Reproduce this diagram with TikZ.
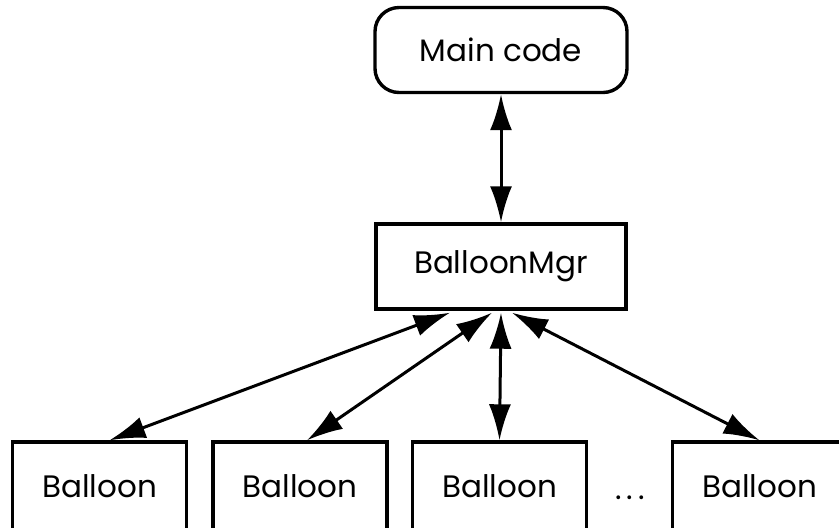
\documentclass[tikz,border=0pt]{standalone}
\usepackage{fontspec}
\setmainfont{Poppins}
\usetikzlibrary{arrows.meta}

\begin{document}
\begin{tikzpicture}[x=0.5pt,y=-0.5pt,
    box/.style={draw,line width=1.7pt,minimum width=125pt,minimum height=42.5pt,
      inner sep=0pt,font=\fontsize{15.5}{18}\selectfont},
    link/.style={line width=1.5pt,{Latex[length=18pt,width=11pt]}-{Latex[length=18pt,width=11pt]}}]
      \useasboundingbox (0,0) rectangle (839,527);
      \node[box,rounded corners=12pt,minimum width=126pt] (main) at (501,50) {Main code};
      \node[box] (mgr) at (501,266.5) {BalloonMgr};
      \node[box,minimum width=87pt,minimum height=44pt] (b1) at (99.5,486) {Balloon};
      \node[box,minimum width=87pt,minimum height=44pt] (b2) at (300,486) {Balloon};
      \node[box,minimum width=87pt,minimum height=44pt] (b3) at (499.5,486) {Balloon};
      \node[box,minimum width=87pt,minimum height=44pt] (b5) at (759.5,486) {Balloon};
      \node[anchor=base,inner sep=0pt,font=\fontsize{15.5}{18}\selectfont] (dots) at (630,499) {.\hspace{2.5pt}.\hspace{2.5pt}.};
      \draw[link] (main) -- (mgr);
      \draw[link] ([xshift=-25.5pt,yshift=-1pt]mgr.south) -- ([xshift=5pt]b1.north);
      \draw[link] ([xshift=-4.5pt,yshift=-1pt]mgr.south) -- ([xshift=3.5pt]b2.north);
      \draw[link] ([yshift=-1pt]mgr.south) -- (b3.north);
      \draw[link] ([xshift=5.5pt,yshift=-1pt]mgr.south) -- (b5.north);
\end{tikzpicture}
\end{document}
